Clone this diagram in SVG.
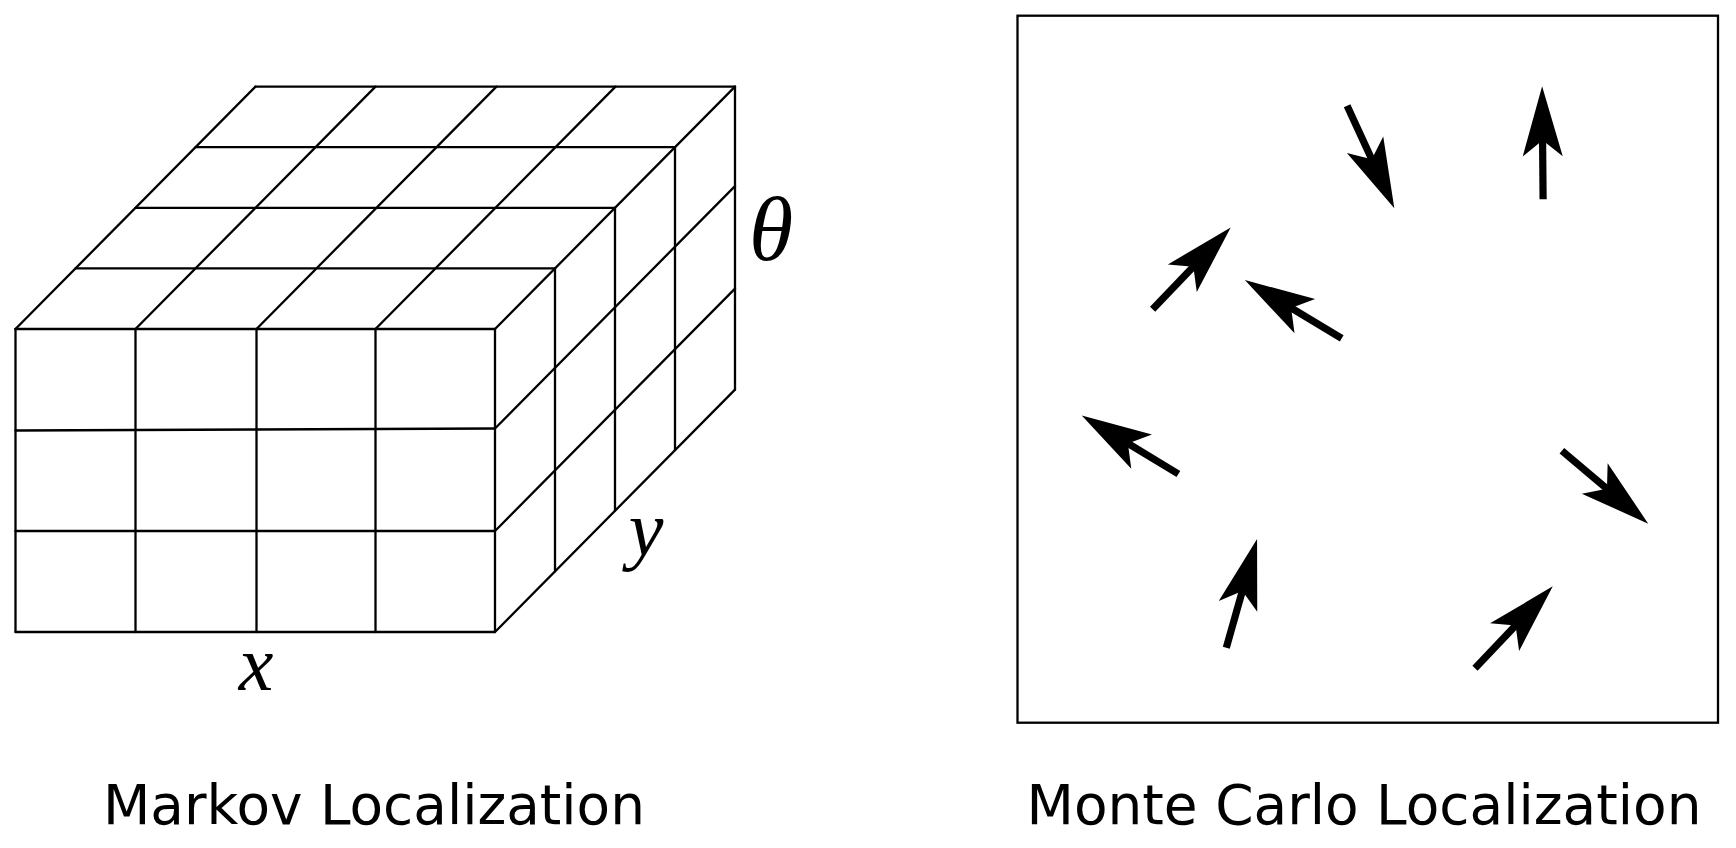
<svg xmlns="http://www.w3.org/2000/svg" xmlns:xlink="http://www.w3.org/1999/xlink" width="1736" height="848" viewBox="0 0 1736 848">
<style>
.grid{stroke:#000;stroke-width:2.3;fill:none;stroke-linecap:round}
.math{font-family:"Liberation Serif","DejaVu Serif",serif;font-style:italic;fill:#000}
.cap{font-family:"DejaVu Sans","Liberation Sans",sans-serif;font-size:55px;fill:#000}
.box{stroke:#000;stroke-width:2.3;fill:none}
</style>
<defs>
<g id="particle">
<rect x="0" y="-3.6" width="62" height="7.2" fill="#000"/>
<path d="M113,0 L43,-20 L59,0 L43,20 Z" fill="#000"/>
</g>
</defs>
<rect width="1736" height="848" fill="#fff"/>
<g id="markov-grid">
<g class="grid">
<path d="M15.5,329 V632 M135.5,329 V632 M256.5,329 V632 M375.5,329 V632 M495,329 V632"/>
<path d="M15.5,329 H495 M15.5,430.5 L495,428.5 M15.5,531 H495 M15.5,632 H495"/>
<path d="M75.5,268.4 H555 M135.5,207.8 H615 M195.5,147.2 H675 M255.5,86.6 H735"/>
<path d="M15.5,329 L255.5,86.6 M135.5,329 L375.5,86.6 M256.5,329 L496.5,86.6 M375.5,329 L615.5,86.6 M495,329 L735,86.6"/>
<path d="M555,268.4 V571.4 M615,207.8 V510.8 M675,147.2 V450.2 M735,86.6 V389.6"/>
<path d="M495,428.5 L735,186.1 M495,531 L735,288.6 M495,632 L735,389.6"/>
</g>
</g>
<g id="axis-labels">
<text class="math" x="771" y="260" font-size="90" text-anchor="middle">θ</text>
<text class="math" x="256" y="690" font-size="78" text-anchor="middle">x</text>
<text class="math" x="646" y="555" font-size="78" text-anchor="middle">y</text>
</g>
<g id="monte-carlo-box">
<rect class="box" x="1017.5" y="15.7" width="700.5" height="707"/>
</g>
<g id="particles">
<use xlink:href="#particle" transform="translate(1347.1,105.7) rotate(65.3)"/>
<use xlink:href="#particle" transform="translate(1543.1,199.3) rotate(-90.5)"/>
<use xlink:href="#particle" transform="translate(1152.6,309.3) rotate(-46.3)"/>
<use xlink:href="#particle" transform="translate(1341.7,338.3) rotate(-149)"/>
<use xlink:href="#particle" transform="translate(1178.4,474) rotate(-148.8)"/>
<use xlink:href="#particle" transform="translate(1561.9,450.7) rotate(40.2)"/>
<use xlink:href="#particle" transform="translate(1226.3,647.7) rotate(-74.2)"/>
<use xlink:href="#particle" transform="translate(1475,668.3) rotate(-46.5)"/>
</g>
<g id="captions">
<text class="cap" x="103" y="823.5" textLength="542" lengthAdjust="spacingAndGlyphs">Markov Localization</text>
<text class="cap" x="1026.5" y="823.5" textLength="675" lengthAdjust="spacingAndGlyphs">Monte Carlo Localization</text>
</g>
</svg>
